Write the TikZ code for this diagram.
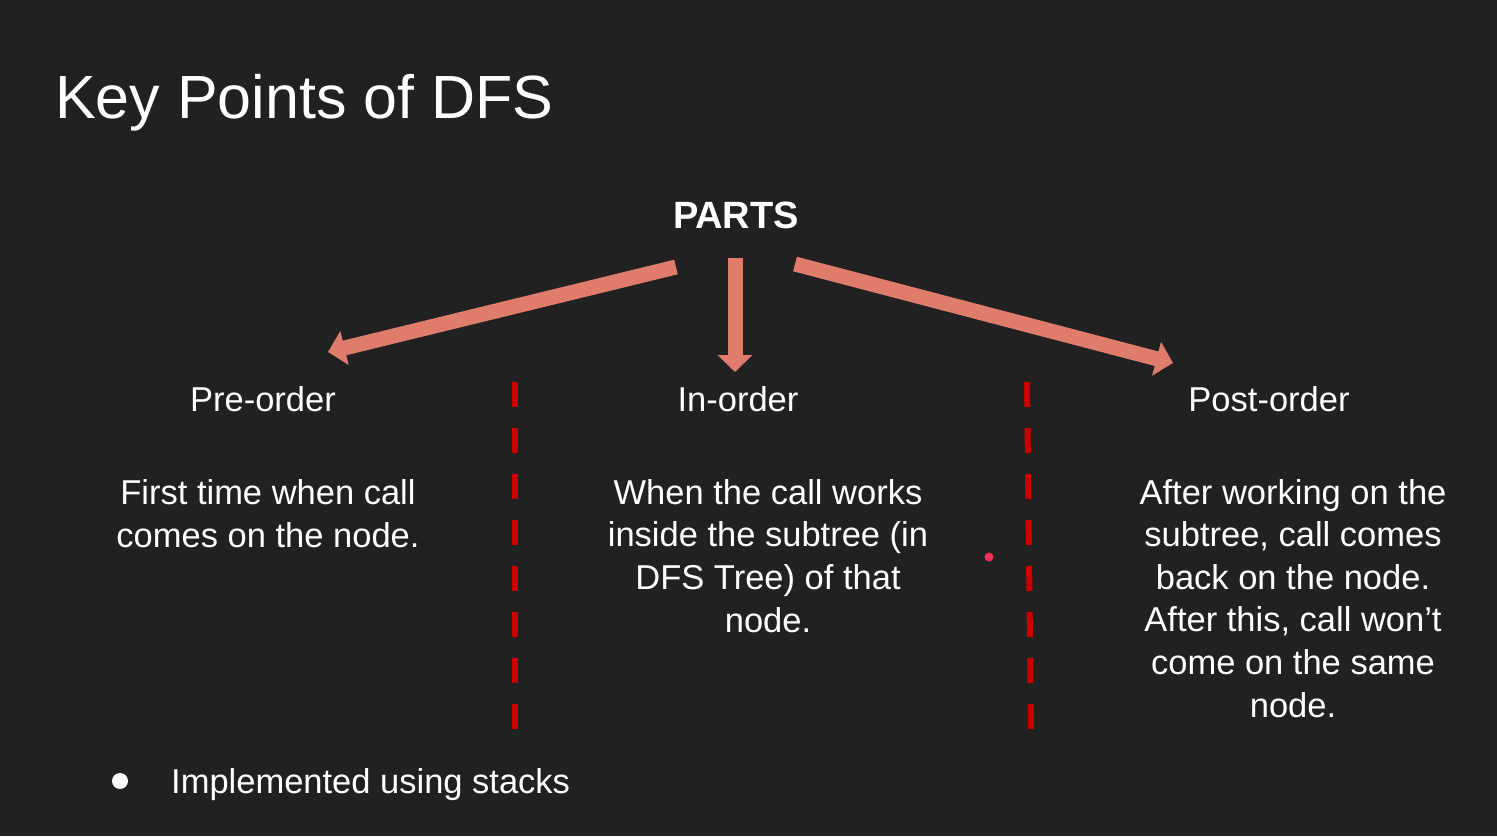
\documentclass[tikz,border=0pt]{standalone}
\usepackage{fontspec}
\setmainfont{Liberation Sans}
\usetikzlibrary{arrows.meta}
\definecolor{slide}{HTML}{212121}
\definecolor{salmon}{HTML}{E07C6C}
\definecolor{divider}{HTML}{CC0000}
\definecolor{pointer}{HTML}{F03050}
\begin{document}
\begin{tikzpicture}[x=1pt,y=-1pt,
  every node/.style={text=white, inner sep=0pt},
  body/.style={font=\fontsize{34.5}{42.6}\selectfont, align=center, anchor=base},
  heading/.style={font=\fontsize{34.5}{42.6}\selectfont, anchor=base},
  bigarrow/.style={draw=salmon, line width=15pt, line cap=butt,
    -{Triangle[length=17pt 0 0, width=34pt 0 0]}},
  divline/.style={draw=divider, line width=6pt, dash pattern=on 25pt off 21pt}]
\useasboundingbox (0,0) rectangle (1497,836);
\fill[slide] (0,0) rectangle (1497,836);

% title
\node[anchor=base west, font=\fontsize{61}{70}\selectfont] (title) at (55,118) {Key Points of DFS};

% root label and its three branches
\node[anchor=base, font=\fontsize{38}{45}\bfseries] (parts) at (736,228) {PARTS};
\coordinate (sL) at (676,267);
\coordinate (sM) at (735,258);
\coordinate (sR) at (795,264);
\coordinate (tL) at (328,352);
\coordinate (tM) at (735,372);
\coordinate (tR) at (1173,363);
\draw[bigarrow] (sL) -- (tL);
\draw[bigarrow] (sM) -- (tM);
\draw[bigarrow] (sR) -- (tR);

% column headings
\node[heading] (pre) at (263,411) {Pre-order};
\node[heading] (in) at (738,411) {In-order};
\node[heading] (post) at (1269,411) {Post-order};

% descriptions (anchored below the last line)
\node[body] (preText) at (268,547) {First time when call\\comes on the node.};
\node[body] (inText) at (768,632) {When the call works\\inside the subtree (in\\DFS Tree) of that\\node.};
\node[body] (postText) at (1293,717) {After working on the\\subtree, call comes\\back on the node.\\After this, call won’t\\come on the same\\node.};

% dashed separators
\coordinate (d1a) at (515,382);
\coordinate (d1b) at (515,729);
\coordinate (d2a) at (1027,382);
\coordinate (d2b) at (1031,729);
\draw[divline] (d1a) -- (d1b);
\draw[divline] (d2a) -- (d2b);

% pointer dot
\fill[pointer] (989,557) circle (4.5pt);

% bullet point
\fill[white] (120,781) circle (8pt);
\node[anchor=base west, font=\fontsize{34.5}{42.6}\selectfont] (impl) at (171,793) {Implemented using stacks};
\end{tikzpicture}
\end{document}
